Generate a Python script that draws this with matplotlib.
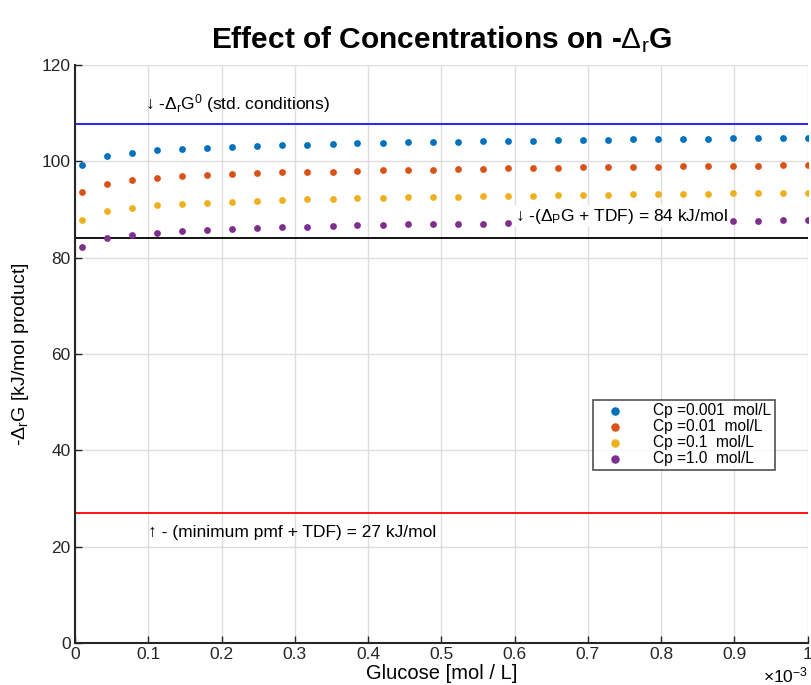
import matplotlib
matplotlib.use('Agg')
import matplotlib.pyplot as plt
import numpy as np
from matplotlib.ticker import FuncFormatter, MultipleLocator

plt.rcParams['font.family'] = ['Liberation Sans', 'DejaVu Sans']
plt.rcParams['mathtext.fontset'] = 'custom'
plt.rcParams['mathtext.rm'] = 'Liberation Sans'
plt.rcParams['mathtext.it'] = 'Liberation Sans'

# glucose concentration [mol/L]
glucose = [1.0e-5, 4.41e-5, 7.83e-5, 1.124e-4, 1.466e-4, 1.807e-4, 2.148e-4, 2.49e-4,
           2.831e-4, 3.172e-4, 3.514e-4, 3.855e-4, 4.197e-4, 4.538e-4, 4.879e-4, 5.221e-4,
           5.562e-4, 5.903e-4, 6.245e-4, 6.586e-4, 6.928e-4, 7.269e-4, 7.61e-4, 7.952e-4,
           8.293e-4, 8.634e-4, 8.976e-4, 9.317e-4, 9.659e-4, 1.0e-3]

# -dG values [kJ/mol product], one list per product concentration
dg_0001 = [99.3, 101.1, 101.8, 102.3, 102.6, 102.8, 103.0, 103.2, 103.4, 103.5,
           103.6, 103.8, 103.9, 104.0, 104.0, 104.1, 104.2, 104.3, 104.3, 104.4,
           104.5, 104.5, 104.6, 104.6, 104.7, 104.7, 104.8, 104.8, 104.9, 104.9]
dg_001 = [93.6, 95.4, 96.1, 96.6, 96.9, 97.1, 97.3, 97.5, 97.7, 97.8,
          97.9, 98.1, 98.2, 98.3, 98.3, 98.4, 98.5, 98.6, 98.6, 98.7,
          98.8, 98.8, 98.9, 98.9, 99.0, 99.0, 99.1, 99.1, 99.2, 99.2]
dg_01 = [87.9, 89.7, 90.4, 90.9, 91.2, 91.4, 91.6, 91.8, 92.0, 92.1,
         92.2, 92.4, 92.5, 92.6, 92.6, 92.7, 92.8, 92.9, 92.9, 93.0,
         93.1, 93.1, 93.2, 93.2, 93.3, 93.3, 93.4, 93.4, 93.5, 93.5]
dg_1 = [82.2, 84.0, 84.7, 85.2, 85.5, 85.7, 85.9, 86.1, 86.3, 86.4,
        86.5, 86.7, 86.8, 86.9, 86.9, 87.0, 87.1, 87.2, 87.2, 87.3,
        87.4, 87.4, 87.5, 87.5, 87.6, 87.6, 87.7, 87.7, 87.8, 87.8]
labels = ['Cp =0.001  mol/L', 'Cp =0.01  mol/L', 'Cp =0.1  mol/L', 'Cp =1.0  mol/L']
colors = ['#0072BD', '#D95319', '#EDB120', '#7E2F8E']

dg_std = 107.8   # -dG0, std. conditions
dg_p_tdf = 84    # -(dPG + TDF)
pmf_tdf = 27     # minimum pmf + TDF

fig = plt.figure(figsize=(8.11, 6.85), dpi=100)
ax = fig.add_axes([0.0925, 0.0613, 0.9035, 0.8437])

for ys, c, lab in zip([dg_0001, dg_001, dg_01, dg_1], colors, labels):
	ax.scatter(glucose, ys, s=24, color=c, label=lab, zorder=3, linewidths=0)

ax.axhline(dg_std, color='#0000FF', lw=1.2, zorder=2)
ax.axhline(dg_p_tdf, color='black', lw=1.3, zorder=2)
ax.axhline(pmf_tdf, color='#FF0000', lw=1.3, zorder=2)

ax.text(0.095e-3, 112.0, '\u2193 -$\\Delta_r$G$^0$ (std. conditions)', fontsize=12.5, va='center')
ax.text(0.6e-3, 88.6, '\u2193 -($\\Delta_P$G + TDF) = 84 kJ/mol', fontsize=12.5, va='center',
	bbox=dict(facecolor='white', edgecolor='none', pad=1), zorder=4)
ax.text(0.1e-3, 23.0, '\u2191 - (minimum pmf + TDF) = 27 kJ/mol', fontsize=12.5, va='center')

ax.set_xlim(0, 1e-3)
ax.set_ylim(0, 120)
ax.xaxis.set_major_locator(MultipleLocator(1e-4))
ax.yaxis.set_major_locator(MultipleLocator(20))
ax.xaxis.set_major_formatter(FuncFormatter(lambda v, p: '%g' % round(v * 1e3, 3)))
ax.tick_params(direction='in', length=5, width=1, labelsize=12.5, colors='#262626', pad=3)
ax.grid(True, color='#dddddd', lw=1, zorder=0)
ax.set_axisbelow(True)
for s in ['top', 'right']:
	ax.spines[s].set_visible(False)
for s in ['left', 'bottom']:
	ax.spines[s].set_linewidth(1.5)
	ax.spines[s].set_color('#262626')

ax.set_xlabel('Glucose [mol / L]', fontsize=14.5, labelpad=1)
ax.set_ylabel('-$\\Delta_r$G [kJ/mol product]', fontsize=14, labelpad=8)
ax.set_title('Effect of Concentrations on -$\\Delta_r$G', fontsize=21.5, fontweight='bold', pad=12)
fig.text(0.968, 0.0, '$\\times$10$^{-3}$', fontsize=12.5, ha='center', va='bottom')

leg = ax.legend(loc='lower left', bbox_to_anchor=(0.707, 0.30), fontsize=11.2, frameon=True,
	fancybox=False, edgecolor='#262626', handletextpad=1.3, borderpad=0.25, labelspacing=0.05,
	markerscale=1.25, scatterpoints=1, handlelength=2.3, borderaxespad=0)
leg.get_frame().set_linewidth(1.2)

plt.savefig('out.png', dpi=100)
